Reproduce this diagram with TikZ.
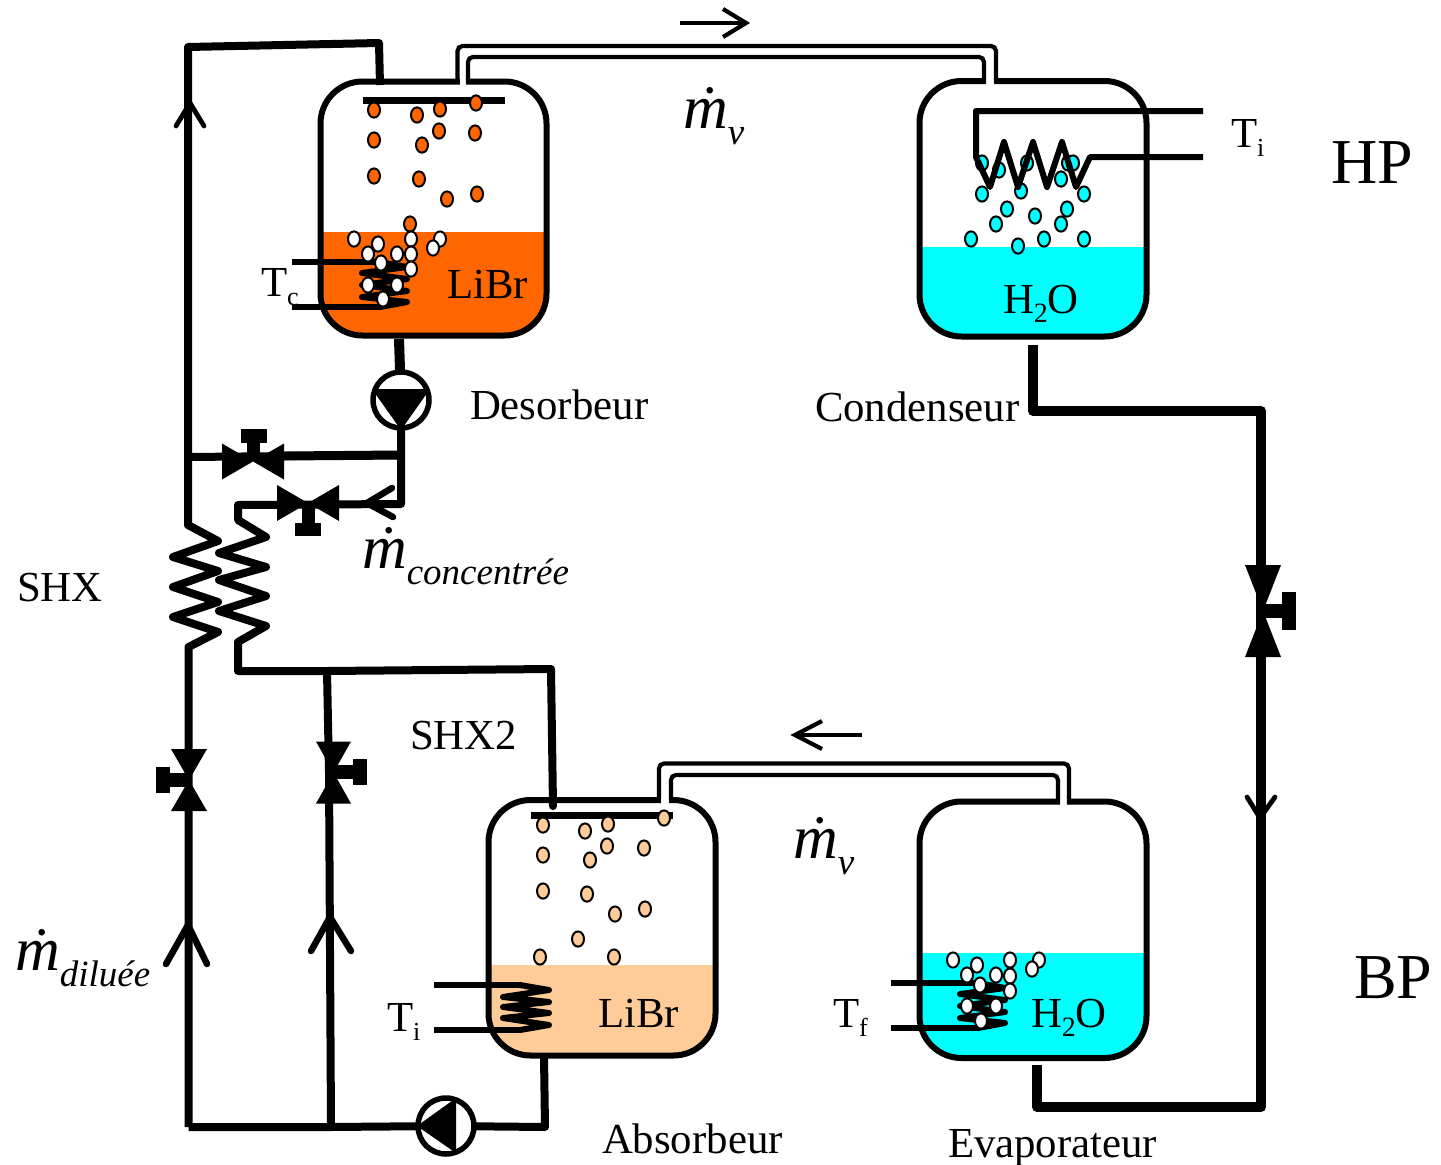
\documentclass[tikz,border=0pt]{standalone}
\usepackage{fontspec}
\setmainfont{Liberation Serif}
\definecolor{orangeL}{HTML}{FF6600}
\definecolor{peachL}{HTML}{FFCC99}
\definecolor{cyanL}{HTML}{00FFFF}
\newcommand{\fs}[1]{\fontsize{#1}{#1}\selectfont}
\newcommand{\mdotsub}[1]{{\fs{62}\textit{\.{m}}}{\raisebox{-16pt}{\fs{37}\textit{#1}}}}
\newcommand{\Tsub}[2]{#1\raisebox{-9pt}{\fs{26}#2}}
\newcommand{\water}{H\raisebox{-9pt}{\fs{28}2}O}
% name, x1,y1,x2,y2, level, colour
\newcommand{\tank}[7]{%
  \begin{scope}
    \clip[rounded corners=42pt] (#2,#3) rectangle (#4,#5);
    \fill[#7] (#2,#6) rectangle (#4,#5);
  \end{scope}
  \node[tankbox,minimum width=#4pt-#2pt,minimum height=#5pt-#3pt] (#1) at ({(#2+#4)/2},{(#3+#5)/2}) {};
}
\newcommand{\drops}[2]{\foreach \px/\py in {#2} {\draw[dropstyle,fill=#1] (\px,\py) ellipse [x radius=6pt,y radius=7.6pt];}}
\newcommand{\hvalve}[5]{\fill (#2-#4,#3-#5) -- (#2,#3) -- (#2-#4,#3+#5) -- cycle (#2+#4,#3-#5) -- (#2,#3) -- (#2+#4,#3+#5) -- cycle;}
\newcommand{\vvalve}[5]{\fill (#2-#4,#3-#5) -- (#2,#3) -- (#2+#4,#3-#5) -- cycle (#2-#4,#3+#5) -- (#2,#3) -- (#2+#4,#3+#5) -- cycle;}
\tikzset{
  tankbox/.style={draw,line width=6pt,rectangle,rounded corners=42pt,inner sep=0pt,outer sep=0pt},
  dropstyle/.style={draw,line width=2pt},
  pipe/.style={line width=8pt,line join=round},
  bigpipe/.style={line width=10pt,line join=round},
  vapour/.style={line width=4.2pt,rounded corners=5pt},
  coil/.style={line width=6pt,line join=round,line cap=round},
  lead/.style={line width=5.5pt,line join=round},
  bar/.style={line width=7pt},
  chev/.style={line width=6.5pt,line cap=round,line join=miter},
  chevthin/.style={line width=4.8pt,line cap=round,line join=miter},
  thin arrow/.style={line width=4.2pt,line join=miter},
  lab/.style={anchor=base west,inner sep=0pt,outer sep=0pt,font=\fs{42.8}},
  big/.style={anchor=base west,inner sep=0pt,outer sep=0pt,font=\fs{64}},
  pumpc/.style={circle,draw,fill=white,line width=5.5pt,minimum size=56pt,inner sep=0pt,outer sep=0pt},
}
\begin{document}
\begin{tikzpicture}[x=1pt,y=-1pt]
\useasboundingbox (0,0) rectangle (1441,1165);

% ---- tanks
\tank{des}{320.5}{81.5}{546.5}{335.5}{232}{orangeL}
\tank{cond}{919.5}{81}{1146.5}{336.5}{247}{cyanL}
\tank{abso}{488.5}{800}{715.5}{1055.5}{965}{peachL}
\tank{evap}{919.5}{801.5}{1146.5}{1058}{953}{cyanL}

% ---- openings of the vapour lines
\fill[white] (459.5,76) rectangle (466,87);
\fill[white] (985.5,76) rectangle (994,87);
\fill[white] (661,794) rectangle (669,805);
\fill[white] (1059.5,796) rectangle (1067,807);

% ---- vapour lines
\coordinate (vd1) at (457.5,82); \coordinate (vd2) at (457.5,46); \coordinate (vd3) at (996,46); \coordinate (vd4) at (996,82);
\coordinate (vd5) at (468,82); \coordinate (vd6) at (468,57); \coordinate (vd7) at (984,57); \coordinate (vd8) at (984,82);
\draw[vapour] (vd1) -- (vd2) -- (vd3) -- (vd4);
\draw[vapour] (vd5) -- (vd6) -- (vd7) -- (vd8);
\coordinate (va1) at (659,800); \coordinate (va2) at (659,763.5); \coordinate (va3) at (1069,763.5); \coordinate (va4) at (1069,804);
\coordinate (va5) at (671,800); \coordinate (va6) at (671,775); \coordinate (va7) at (1058,775); \coordinate (va8) at (1058,804);
\draw[vapour] (va1) -- (va2) -- (va3) -- (va4);
\draw[vapour] (va5) -- (va6) -- (va7) -- (va8);

% ---- flow arrows on vapour lines
\coordinate (a1s) at (680,23); \coordinate (a1e) at (746,23);
\draw[thin arrow] (a1s) -- (a1e);
\draw[thin arrow] (723,9) -- (a1e) -- (723,37);
\coordinate (a2s) at (862,735); \coordinate (a2e) at (795,735);
\draw[thin arrow] (a2s) -- (a2e);
\draw[thin arrow] (822,721) -- (a2e) -- (822,749);

% ---- spray bars
\coordinate (b1l) at (363,100); \coordinate (b1r) at (505,100);
\draw[bar] (b1l) -- (b1r);
\coordinate (b2l) at (531,815); \coordinate (b2r) at (673,815);
\draw[bar] (b2l) -- (b2r);

% ---- drops that sit under coils
\drops{orangeL}{374/110,417/115,440/109,476/103,374/140,422/145,439/131,475/133,374/176,419/179,447/199,477/194,410/224}
\drops{cyanL}{982/163,999/170,1027/163,1068/163,1073/163,1061/179,982/194,1021/191,1084/194,1007/209,1035/216,1067/209,996/224,1061/224,971/239,1018/246,1044/239,1084/239}
\drops{peachL}{543/825,585/831,608/824,664/818,543/855,607/846,590/860,644/848,543/891,587/894,615/914,645/909,578/939,540/957,614/957}

% ---- coils
\coordinate (c1a) at (292,262); \coordinate (c1b) at (292,307);
\draw[lead] (c1a) -- (380,262);
\draw[lead] (c1b) -- (380,307);
\draw[coil] (380,262) -- (407,267) -- (362,273) -- (407,279) -- (362,285) -- (407,291) -- (362,297) -- (407,302) -- (380,307);
\coordinate (c2a) at (1203,111); \coordinate (c2b) at (1203,157);
\draw[coil,line cap=butt] (c2a) -- (976,111) -- (976,157) -- (990,187) -- (1004,142) -- (1018,187) -- (1033,142) -- (1047,187) -- (1062,142) -- (1076,187) -- (1090,157) -- (c2b);
\coordinate (c3a) at (434,985); \coordinate (c3b) at (434,1030);
\draw[lead] (c3a) -- (520,985);
\draw[lead] (c3b) -- (520,1030);
\draw[coil] (520,985) -- (549,990) -- (503,997) -- (549,1002) -- (503,1007) -- (549,1013) -- (503,1018) -- (549,1025) -- (520,1030);
\coordinate (c4a) at (891,983); \coordinate (c4b) at (891,1028);
\draw[lead] (c4a) -- (978,983);
\draw[lead] (c4b) -- (978,1028);
\draw[coil] (978,983) -- (1005,988) -- (960,994) -- (1005,1000) -- (960,1006) -- (1005,1012) -- (960,1018) -- (1005,1023) -- (978,1028);

% ---- white bubbles
\drops{white}{354/239,378/244,368/254,397/254,411/239,411/254,411/269,381/263,368/285,397/285,383/299,440/239,433/248}
\drops{white}{953/960,977/965,967/975,996/975,1010/960,1010/976,1010/991,980/985,967/1006,996/1006,981/1021,1039/960,1032/969}

% ---- solution circuit
\coordinate (p1) at (401,400);
\coordinate (p2) at (446,1126);
\coordinate (j1) at (188,457);
\coordinate (j2) at (401,455);
\coordinate (j3) at (401,504);
\coordinate (j4) at (238,505);
\coordinate (j5) at (238,671);
\coordinate (j6) at (327,671);
\coordinate (j7) at (551,669);
\coordinate (j8) at (553,806);
\coordinate (j9) at (331,1127);
\coordinate (j10) at (188.5,1127);
\coordinate (j11) at (545,1127);
\coordinate (j12) at (544,1056);
\coordinate (j13) at (188,47);
\coordinate (j14) at (379,43);
\coordinate (j15) at (380,85);

\draw[bigpipe] (399,339) -- (p1);
\draw[pipe] (p1) -- (j2) -- (j3) -- (j4);
\draw[pipe] (j1) -- (j2);
\draw[bigpipe,line width=9pt] (284,456) -- (j2);

% SHX
\draw[pipe,line cap=round] (j4) -- (238,520) -- (266,537) -- (219,553) -- (266,567) -- (219,580) -- (266,596) -- (219,611) -- (266,626) -- (238,642) -- (j5) -- (j6) -- (j7) -- (j8);
\draw[pipe] (j10) -- (188.5,647) -- (218,632) -- (173,617) -- (218,602) -- (173,587) -- (218,571) -- (173,557) -- (218,541) -- (188,525) -- (j1) -- (j13) -- (j14) -- (j15);
\draw[pipe] (j6) -- (329,773) -- (j9);
\draw[pipe] (j10) -- (j9) -- (p2);
\draw[pipe] (p2) -- (j11) -- (j12);

% pumps
\node[pumpc] (pump1) at (p1) {};
\node[pumpc] (pump2) at (p2) {};
\fill (372,389) -- (430,389) -- (401,430) -- cycle;
\fill (456,1098) -- (456,1153) -- (417,1126) -- cycle;

% refrigerant line
\coordinate (r1) at (1033,345);
\coordinate (r2) at (1033,411);
\coordinate (r3) at (1261,411);
\coordinate (r4) at (1261,1107);
\coordinate (r5) at (1037,1107);
\coordinate (r6) at (1037,1065);
\draw[bigpipe] (r1) -- (r2) -- (r3) -- (r4) -- (r5) -- (r6);

% ---- valves
\hvalve{v1}{253}{461.5}{31}{18}
\fill (246.5,443) rectangle (259.5,461);
\fill (241,429) rectangle (267,443);
\hvalve{v2}{308}{503}{31}{18}
\fill (301.5,503) rectangle (314.5,523);
\fill (295,523) rectangle (321,536);
\vvalve{v3}{189}{780}{18}{31}
\fill (170,773) rectangle (189,787);
\fill (156,767) rectangle (170,793);
\vvalve{v4}{333.5}{772.5}{17.5}{31}
\fill (333,765) rectangle (353,779);
\fill (353,759) rectangle (367,785);
\vvalve{v5}{1263}{611}{18}{46}
\fill (1263,603.5) rectangle (1282,618);
\fill (1282,592) rectangle (1296,630);

% ---- chevrons on the lines
\draw[chevthin] (176,126) -- (190,103) -- (204,126);
\draw[chev] (392,488) -- (367,503) -- (393,517);
\draw[chev] (166,964) -- (188,925) -- (207,964);
\draw[chev] (311,951) -- (330,917) -- (351,951);
\draw[chevthin] (1247,797) -- (1260,818) -- (1275,797);

% ---- labels
\node[lab] (t1) at (470,419) {Desorbeur};
\node[lab] (t2) at (815,421) {Condenseur};
\node[lab] (t3) at (17,601) {SHX};
\node[lab] (t4) at (410,749) {SHX2};
\node[lab] (t5) at (602,1153) {Absorbeur};
\node[lab] (t6) at (948,1157) {Evaporateur};
\node[big] (t7) at (1331,183) {HP};
\node[big] (t8) at (1354,998) {BP};
\node[lab] (t9) at (447,298) {LiBr};
\node[lab] (t10) at (598,1027) {LiBr};
\node[lab] (t11) at (1003,313) {\water};
\node[lab] (t12) at (1031,1027) {\water};
\node[lab] (t13) at (1231,147) {\Tsub{T}{i}};
\node[lab] (t14) at (261,296) {\Tsub{T}{c}};
\node[lab] (t15) at (387,1031) {\Tsub{T}{i}};
\node[lab] (t16) at (833,1027) {\Tsub{T}{f}};
\node[lab] (m1) at (683,128) {\mdotsub{v}};
\node[lab] (m2) at (793,858) {\mdotsub{v}};
\node[lab] (m3) at (362,568) {\mdotsub{concentrée}};
\node[lab] (m4) at (15,970) {\mdotsub{diluée}};
\end{tikzpicture}
\end{document}
